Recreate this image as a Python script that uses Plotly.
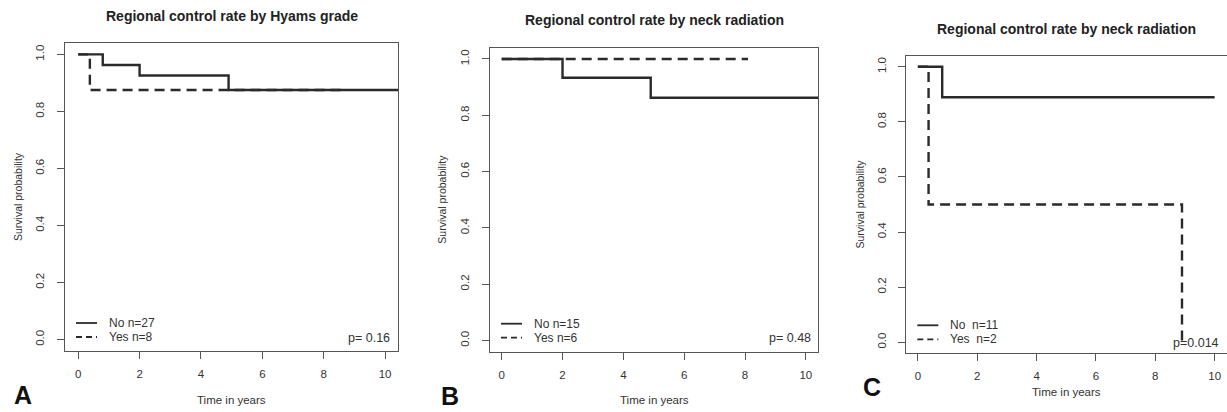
import plotly.graph_objects as go

# ---------------- data ----------------
titles = ["Regional control rate by Hyams grade",
          "Regional control rate by neck radiation",
          "Regional control rate by neck radiation"]
panel_letters = ["A", "B", "C"]
legend_no = ["No n=27", "No n=15", "No  n=11"]
legend_yes = ["Yes n=8", "Yes n=6", "Yes  n=2"]
p_values = ["p= 0.16", "p= 0.48", "p=0.014"]

a_no_t = [0, 0.8, 2.0, 4.9, 10.6]
a_no_s = [1.0, 0.963, 0.926, 0.875, 0.875]
a_yes_t = [0, 0.38, 8.7]
a_yes_s = [1.0, 0.875, 0.875]

b_no_t = [0, 2.0, 4.9, 10.6]
b_no_s = [1.0, 0.933, 0.862, 0.862]
b_yes_t = [0, 8.1]
b_yes_s = [1.0, 1.0]

c_no_t = [0, 0.82, 10.0]
c_no_s = [1.0, 0.889, 0.889]
c_yes_t = [0, 0.36, 8.9]
c_yes_s = [1.0, 0.5, 0.0]

x_ticks = [0, 2, 4, 6, 8, 10]
y_ticks = [0.0, 0.2, 0.4, 0.6, 0.8, 1.0]

# ---------------- layout geometry (pixels) ----------------
W, H = 1227, 412
boxes = [  # left, right, top, bottom in px
    (65, 398, 43, 351),
    (490, 818, 47.7, 351.7),
    (906.3, 1226.5, 55.7, 353.3),
]
xranges = [[-0.43, 10.42], [-0.385, 10.4], [-0.39, 10.4]]
yrange = [-0.04, 1.04]

def px(x):
    return x / W

def py(y):
    return 1 - y / H

FONT = "Liberation Sans, Arial, sans-serif"
LINE_COL = "#2a2a2a"
BOX_COL = "#555555"
TXT_COL = "#333333"
DASH = "10px,6px"

fig = go.Figure()

series = [
    (a_no_t, a_no_s, a_yes_t, a_yes_s),
    (b_no_t, b_no_s, b_yes_t, b_yes_s),
    (c_no_t, c_no_s, c_yes_t, c_yes_s),
]

annotations = []
shapes = []

for i, (nt, ns, yt, ys) in enumerate(series):
    suffix = "" if i == 0 else str(i + 1)
    xa, ya = "x" + suffix, "y" + suffix
    fig.add_trace(go.Scatter(x=yt, y=ys, mode="lines", line_shape="hv",
                             line=dict(color=LINE_COL, width=2.4, dash=DASH),
                             xaxis=xa, yaxis=ya, showlegend=False, hoverinfo="skip"))
    fig.add_trace(go.Scatter(x=nt, y=ns, mode="lines", line_shape="hv",
                             line=dict(color=LINE_COL, width=2.4),
                             xaxis=xa, yaxis=ya, showlegend=False, hoverinfo="skip"))

    l, r, t, b = boxes[i]
    axis_common = dict(showline=True, mirror=True, linecolor=BOX_COL, linewidth=1.2,
                       showgrid=False, zeroline=False, ticks="outside", ticklen=7,
                       tickcolor=BOX_COL, tickwidth=1,
                       tickfont=dict(family=FONT, size=11.5, color=TXT_COL))
    fig.layout["xaxis" + suffix] = dict(
        domain=[px(l), px(r)], range=xranges[i], tickvals=x_ticks,
        anchor=ya, ticklabelstandoff=5, **axis_common)
    fig.layout["yaxis" + suffix] = dict(
        domain=[py(b), py(t)], range=yrange, tickvals=y_ticks, tickformat=".1f",
        tickangle=-90, anchor=xa, ticklabelstandoff=8, **axis_common)

    cx = (l + r) / 2
    # title
    title_y = [16, 20, 29][i]
    annotations.append(dict(x=px(cx), y=py(title_y), xref="paper", yref="paper",
                            text="<b>" + titles[i] + "</b>", showarrow=False,
                            font=dict(family=FONT, size=14, color="#222"),
                            xanchor="center", yanchor="middle"))
    # x label
    xl_y = [400, 400, 392][i]
    annotations.append(dict(x=px(cx), y=py(xl_y), xref="paper", yref="paper",
                            text="Time in years", showarrow=False,
                            font=dict(family=FONT, size=11.5, color=TXT_COL),
                            xanchor="center", yanchor="middle"))
    # y label
    yl_x = [18, 442, 860][i]
    annotations.append(dict(x=px(yl_x), y=py((t + b) / 2), xref="paper", yref="paper",
                            text="Survival probability", showarrow=False, textangle=-90,
                            font=dict(family=FONT, size=10.5, color=TXT_COL),
                            xanchor="center", yanchor="middle"))
    # panel letter
    lx, ly = [(23, 395), (450, 396), (872, 387)][i]
    annotations.append(dict(x=px(lx), y=py(ly), xref="paper", yref="paper",
                            text="<b>" + panel_letters[i] + "</b>", showarrow=False,
                            font=dict(family=FONT, size=25, color="#111"),
                            xanchor="center", yanchor="middle"))
    # p-value
    p_x, p_y = [(392, 338), (813, 338), (1221, 343)][i]
    annotations.append(dict(x=px(p_x), y=py(p_y), xref="paper", yref="paper",
                            text=p_values[i], showarrow=False,
                            font=dict(family=FONT, size=12.5, color=TXT_COL),
                            xanchor="right", yanchor="middle"))
    # legend
    leg_x0 = l + 11
    leg_y_no = b - 28
    leg_y_yes = b - 14
    for yy, txt, dash in [(leg_y_no, legend_no[i], "solid"), (leg_y_yes, legend_yes[i], "6px,4px")]:
        shapes.append(dict(type="line", xref="paper", yref="paper",
                           x0=px(leg_x0), x1=px(leg_x0 + 21), y0=py(yy), y1=py(yy),
                           line=dict(color=LINE_COL, width=1.8, dash=dash)))
        annotations.append(dict(x=px(leg_x0 + 31), y=py(yy), xref="paper", yref="paper",
                                text=txt, showarrow=False,
                                font=dict(family=FONT, size=12, color=TXT_COL),
                                xanchor="left", yanchor="middle"))

fig.update_layout(width=W, height=H, margin=dict(l=0, r=0, t=0, b=0),
                  paper_bgcolor="white", plot_bgcolor="white",
                  annotations=annotations, shapes=shapes, showlegend=False)

fig.write_html("out.html", config={"displayModeBar": False},
               post_script="document.body.style.margin='0px';document.body.style.overflow='hidden';")
